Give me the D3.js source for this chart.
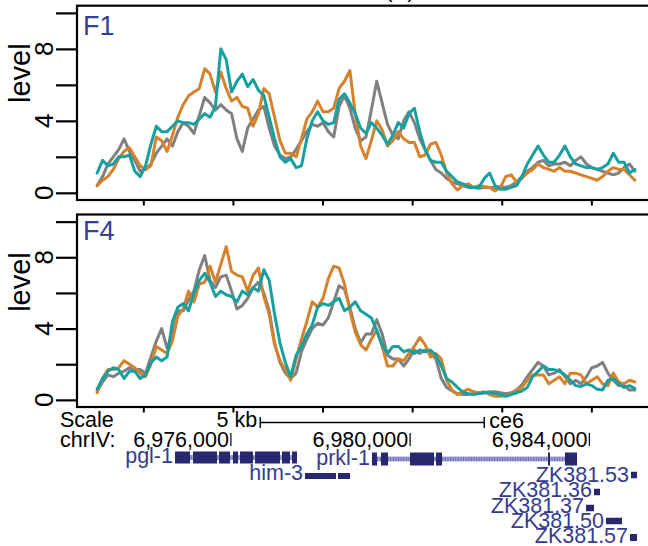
<!DOCTYPE html>
<html><head><meta charset="utf-8">
<script src="https://cdn.jsdelivr.net/npm/d3@7"></script>
<style>body{margin:0;background:#fff}svg{display:block}text{font-family:"Liberation Sans",Arial,Helvetica,sans-serif}</style>
</head><body>
<svg id="c" width="648" height="546"></svg>
<script>
// ---------- data ----------
const startPos = 6972970, stepBp = 120;   // bin start and bin width (bp)
const panelNames = ["F1", "F4"];
const seriesNames = ["grey", "orange", "teal"];
const f1Grey = [0.4,0.9,1.6,2.0,2.4,3.0,2.3,1.8,1.2,1.3, 1.6,2.2,2.6,3.0,2.6,3.4,3.9,3.7,3.3,4.3, 5.3,5.0,4.6,4.9,4.6,4.4,3.0,2.3,3.6,4.1, 4.6,4.8,3.6,2.6,2.1,1.9,2.0,2.4,2.9,3.4, 3.8,3.7,3.9,3.4,3.1,4.8,5.4,4.7,3.6,2.9, 3.1,4.6,6.2,5.0,3.8,3.2,3.0,4.0,4.5,3.9, 3.0,2.4,1.8,1.3,1.1,0.8,0.6,0.5,0.4,0.3, 0.3,0.25,0.3,0.3,0.3,0.35,0.3,0.4,0.6,0.9, 1.2,1.4,1.7,1.8,1.5,1.6,1.6,1.7,1.5,1.8, 2.0,1.6,1.4,1.3,1.2,1.1,1.0,1.1,1.4,1.6, 1.2];
const f1Orange = [0.4,0.7,0.9,1.3,1.9,2.3,2.5,2.0,1.5,1.3, 1.5,3.1,2.9,2.3,3.2,4.2,4.9,5.4,5.6,5.8, 6.9,6.6,5.6,6.7,5.8,5.1,5.3,4.8,4.7,3.7, 4.4,5.8,5.5,4.2,2.9,2.2,2.2,2.0,3.0,4.1, 4.5,5.1,4.5,4.5,4.7,5.8,6.2,6.8,4.4,2.6, 1.9,2.9,4.0,3.5,2.6,2.9,3.4,3.0,2.8,2.8, 2.0,2.1,2.7,2.8,2.1,1.1,0.5,0.15,0.4,0.5, 0.3,0.4,0.35,0.3,0.1,0.3,0.9,1.0,0.6,0.8, 1.1,1.3,1.6,1.4,1.3,1.2,1.4,1.2,1.2,1.1, 1.0,0.9,0.8,0.7,0.9,1.2,1.4,1.3,1.3,1.0, 0.7];
const f1Teal = [1.1,1.8,1.5,1.6,2.0,2.0,2.1,1.2,0.9,1.5, 2.7,3.7,3.4,3.4,3.7,4.0,3.9,3.9,3.8,4.1, 4.4,4.2,4.8,8.0,7.4,5.6,6.2,6.6,5.9,6.3, 5.7,5.4,4.2,3.0,2.0,1.7,1.9,1.4,1.5,3.0, 4.0,4.5,4.0,3.8,3.9,5.2,5.5,5.0,4.4,3.6, 3.3,3.9,3.6,3.2,2.7,3.2,3.9,3.6,4.4,4.7, 3.4,2.4,1.8,1.7,1.7,1.2,0.9,0.6,0.5,0.35, 0.3,0.3,0.8,1.1,0.4,0.2,0.2,0.3,0.4,0.9, 1.6,2.1,2.6,2.1,1.7,1.7,2.1,2.6,2.0,1.6, 1.5,1.4,1.4,1.3,1.4,1.6,2.2,1.7,1.7,1.1, 1.3];
const f4Grey = [0.5,1.0,1.4,1.3,1.5,1.6,1.8,1.7,1.7,1.5, 2.4,3.3,4.0,2.9,3.6,5.0,5.0,5.6,6.1,7.3, 8.1,6.7,6.3,6.9,7.0,6.1,5.1,5.3,5.7,6.3, 6.6,6.0,5.0,3.2,2.1,1.5,1.2,1.5,2.7,3.4, 4.0,4.3,4.2,4.6,5.5,6.4,6.2,5.2,4.0,3.2, 3.7,3.7,4.5,3.7,2.5,2.3,2.3,1.9,2.3,2.8, 2.6,2.8,2.6,2.3,1.2,0.7,0.5,0.35,0.3,0.3, 0.35,0.35,0.4,0.45,0.45,0.4,0.35,0.4,0.55,0.85, 1.3,1.7,2.1,1.9,1.4,1.5,1.7,1.3,0.9,1.1, 0.9,1.3,1.8,1.9,2.1,1.5,1.1,0.8,0.8,0.55, 0.55];
const f4Orange = [0.4,1.2,1.7,1.7,1.8,2.2,2.0,1.8,1.5,1.3, 2.0,3.0,2.8,2.6,3.3,4.7,5.1,6.1,5.5,6.5, 6.6,7.5,6.6,7.6,8.6,7.2,7.0,6.9,6.1,7.0, 7.4,5.8,4.8,3.1,2.2,1.7,1.1,2.3,3.4,4.4, 5.5,5.2,5.7,6.8,7.5,7.4,6.5,5.0,3.8,3.1, 2.8,3.4,3.9,3.0,1.9,1.9,2.3,2.2,2.6,3.0, 3.5,3.1,2.4,2.6,2.3,1.1,0.55,0.3,0.45,0.6, 0.45,0.4,0.45,0.3,0.2,0.2,0.25,0.35,0.55,0.7, 1.1,1.4,1.4,1.4,0.9,1.1,1.3,0.9,1.5,1.5, 1.4,0.9,1.1,1.3,0.9,0.8,1.5,1.0,0.9,1.1, 1.0];
const f4Teal = [0.6,1.2,1.6,1.8,1.7,1.2,1.6,1.6,1.2,1.4, 2.1,2.4,2.2,2.4,4.4,5.2,5.4,5.0,6.0,6.7, 7.1,6.6,5.8,6.1,5.9,5.8,5.5,6.1,5.9,6.3, 6.1,7.3,6.7,4.8,3.2,2.1,1.3,2.5,3.0,3.7, 4.2,5.2,5.4,5.3,5.5,5.7,5.0,5.2,5.5,5.0, 4.8,4.6,3.9,3.1,2.6,3.0,3.0,2.7,2.8,2.6, 2.8,2.7,2.8,2.5,1.9,1.2,1.0,0.7,0.45,0.35, 0.3,0.35,0.4,0.4,0.35,0.3,0.2,0.3,0.4,0.5, 0.7,1.3,1.6,1.9,1.7,1.7,1.6,1.4,1.1,0.8, 0.75,0.9,0.8,0.6,0.55,1.1,1.2,0.9,0.7,0.8, 0.65];
const yTicks = [0, 2, 4, 6, 8, 10];
const yTickLabels = [0, 4, 8];
const xTicks = [6974000, 6976000, 6978000, 6980000, 6982000, 6984000];
const coordLabels = [6976000, 6980000, 6984000];
const scaleBarStart = 6976610, scaleBarLength = 5000;
const geneNames = ["pgl-1", "him-3", "prkl-1", "ZK381.53", "ZK381.36", "ZK381.37", "ZK381.50", "ZK381.57"];
const geneExons = [
  [[6974707,6975042],[6975109,6975645],[6975689,6975935],[6976002,6976114],[6976158,6976448],[6976493,6977051],[6977096,6977274],[6977319,6977430]],
  [[6977609,6978301],[6978346,6978613]],
  [[6979104,6979216],[6979305,6979462],[6979953,6980488],[6980533,6980667],[6983033,6983077],[6983412,6983680]],
  [[6984885,6985019]],
  [[6984059,6984193]],
  [[6983881,6984059]],
  [[6984327,6984684]],
  [[6984863,6985019]]
];
const panelSeries = [[f1Grey, f1Orange, f1Teal], [f4Grey, f4Orange, f4Teal]];

// ---------- layout / style ----------
const colors = ["#808080", "#d6822c", "#16a0a0"];
const panels = [{top: 5.7, bottom: 200, nameY: 35}, {top: 214.5, bottom: 407, nameY: 240}];
const plotLeft = 77;
const geneLayout = [
  {cy: 457.5, h: 12, ty: 463, intron: true},
  {cy: 476, h: 6, ty: 480},
  {cy: 459, h: 13, ty: 465, intron: true},
  {cy: 475, h: 6.5, ty: 481.5},
  {cy: 492, h: 6.5, ty: 496.5},
  {cy: 508, h: 6.5, ty: 512.5},
  {cy: 521, h: 6.5, ty: 528},
  {cy: 537.5, h: 7, ty: 543}
];
const trackFont = 21.5;

const svg = d3.select("#c");
const x = d3.scaleLinear().domain([6972520, 6985280]).range([77, 648.7]);

// title fragment at top (cut off in the reference)
svg.append("text").attr("x", 400).attr("y", -3).attr("text-anchor", "middle")
  .attr("font-size", 22).text("(A)");

panels.forEach((p, pi) => {
  const y = d3.scaleLinear().domain([-0.4, 10.4]).range([p.bottom, p.top]);
  const g = svg.append("g");

  const line = d3.line().x((d, i) => x(startPos + i * stepBp)).y(d => y(d));
  panelSeries[pi].forEach((s, si) => {
    g.append("path").datum(s).attr("d", line).attr("fill", "none")
      .attr("stroke", colors[si]).attr("stroke-width", 3)
      .attr("stroke-linejoin", "round").attr("stroke-linecap", "round");
  });

  // box
  g.append("rect").attr("x", plotLeft).attr("y", p.top).attr("width", 620)
    .attr("height", p.bottom - p.top).attr("fill", "none").attr("stroke", "#000").attr("stroke-width", 2.2);

  // y axis
  const ya = g.append("g").attr("transform", `translate(${plotLeft},0)`)
    .call(d3.axisLeft(y).tickValues(yTicks).tickSize(21).tickFormat(""));
  ya.select(".domain").remove();
  ya.selectAll("line").attr("stroke", "#000").attr("stroke-width", 2.2);

  yTickLabels.forEach(v => {
    g.append("text").attr("transform", `translate(53,${y(v)}) rotate(-90)`)
      .attr("text-anchor", "middle").attr("font-size", 26).text(v);
  });
  g.append("text").attr("transform", `translate(30,${p.top + 67.5}) rotate(-90)`)
    .attr("text-anchor", "middle").attr("font-size", 29).text("level");

  // x axis ticks
  const xa = g.append("g").attr("transform", `translate(0,${p.bottom})`)
    .call(d3.axisBottom(x).tickValues(xTicks).tickSize(5.5).tickFormat(""));
  xa.select(".domain").remove();
  xa.selectAll("line").attr("stroke", "#000").attr("stroke-width", 2);

  g.append("text").attr("x", 83).attr("y", p.nameY).attr("font-size", 27)
    .attr("fill", "#343f96").text(panelNames[pi]);
});

// ---------- browser track ----------
const tr = svg.append("g");
tr.append("text").attr("x", 60).attr("y", 427).attr("font-size", trackFont).text("Scale");
tr.append("text").attr("x", 60).attr("y", 447).attr("font-size", trackFont).text("chrIV:");
const sb0 = x(scaleBarStart), sb1 = x(scaleBarStart + scaleBarLength);
tr.append("line").attr("x1", sb0).attr("x2", sb1).attr("y1", 422.5).attr("y2", 422.5)
  .attr("stroke", "#000").attr("stroke-width", 1.4);
[sb0, sb1].forEach(px => tr.append("line").attr("x1", px).attr("x2", px)
  .attr("y1", 417).attr("y2", 428).attr("stroke", "#000").attr("stroke-width", 1.4));
tr.append("text").attr("x", sb0 - 3).attr("y", 427).attr("text-anchor", "end")
  .attr("font-size", trackFont).text("5 kb");
tr.append("text").attr("x", sb1 + 5).attr("y", 428).attr("font-size", trackFont).text("ce6");

coordLabels.forEach(c => {
  const px = x(c) - 2;
  tr.append("line").attr("x1", px).attr("x2", px).attr("y1", 433).attr("y2", 446)
    .attr("stroke", "#000").attr("stroke-width", 1.2);
  tr.append("text").attr("x", px - 2).attr("y", 447).attr("text-anchor", "end")
    .attr("font-size", trackFont).text(d3.format(",")(c));
});

const geneColor = "#27286e", geneText = "#373b8d";
geneNames.forEach((name, gi) => {
  const L = geneLayout[gi], ex = geneExons[gi];
  const first = x(ex[0][0]), last = x(ex[ex.length - 1][1]);
  if (L.intron) {
    tr.append("rect").attr("x", first).attr("width", last - first)
      .attr("y", L.cy - 2.5).attr("height", 5).attr("fill", "#a3a3d3");
    tr.append("line").attr("x1", first).attr("x2", last).attr("y1", L.cy).attr("y2", L.cy)
      .attr("stroke", "#6b6bb3").attr("stroke-width", 4).attr("stroke-dasharray", "1 1.6");
  }
  ex.forEach(e => {
    tr.append("rect").attr("x", x(e[0])).attr("width", Math.max(1.5, x(e[1]) - x(e[0])))
      .attr("y", L.cy - L.h / 2).attr("height", L.h).attr("fill", geneColor);
  });
  tr.append("text").attr("x", first - 2).attr("y", L.ty).attr("text-anchor", "end")
    .attr("font-size", trackFont).attr("fill", geneText).text(name);
});
</script>
</body></html>
